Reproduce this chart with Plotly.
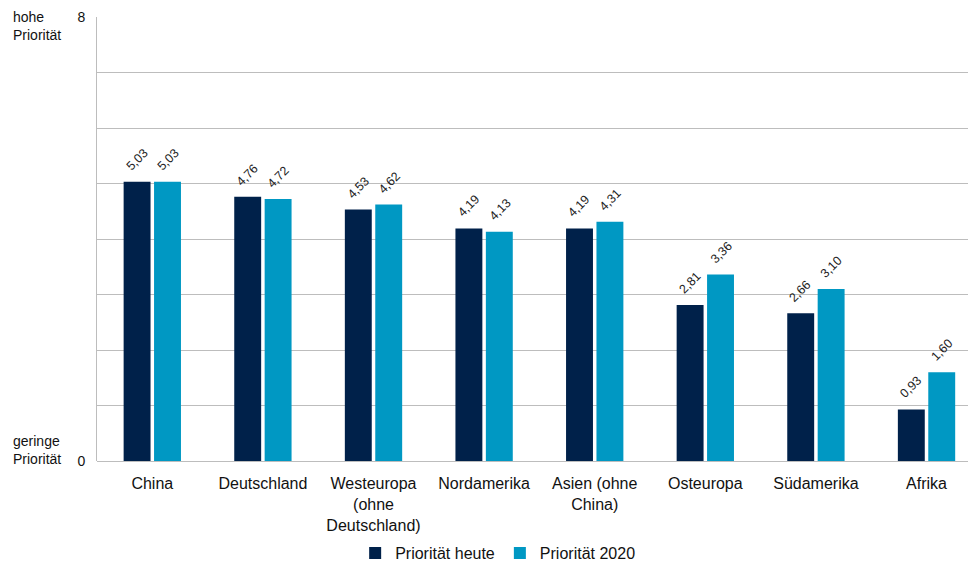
import plotly.graph_objects as go

categories = ["China", "Deutschland", "Westeuropa<br>(ohne<br>Deutschland)", "Nordamerika",
              "Asien (ohne<br>China)", "Osteuropa", "Südamerika", "Afrika"]
heute = [5.03, 4.76, 4.53, 4.19, 4.19, 2.81, 2.66, 0.93]
p2020 = [5.03, 4.72, 4.62, 4.13, 4.31, 3.36, 3.10, 1.60]
y_ticks = list(range(9))
y_ticktext = ["0", "", "", "", "", "", "", "", "8"]

font_family = "Liberation Sans, Arial, sans-serif"
series = [("Priorität heute", heute, "#00214a", -15.5),
          ("Priorität 2020", p2020, "#0098c3", 15.5)]

fig = go.Figure()
for name, vals, color, _ in series:
    fig.add_trace(go.Bar(
        x=list(range(len(categories))), y=vals, name=name,
        marker=dict(color=color, line=dict(width=0)),
    ))

for name, vals, color, dx in series:
    for i, v in enumerate(vals):
        fig.add_annotation(
            x=i, y=v, xref="x", yref="y", text=f"{v:.2f}".replace(".", ","),
            textangle=-45, showarrow=False, xshift=dx, yshift=22,
            font=dict(size=12.5, color="#222222", family=font_family),
        )

fig.update_layout(
    width=968, height=561,
    margin=dict(l=97, r=0, t=17, b=100, autoexpand=False),
    paper_bgcolor="white", plot_bgcolor="white",
    separators=", ",
    barmode="group", bargap=0.45, bargroupgap=0.115,
    font=dict(family=font_family, color="#111111"),
    showlegend=True,
    legend=dict(orientation="h", x=0.46, xanchor="center", y=-92/444, yanchor="middle",
                font=dict(size=16, color="#111111"), itemwidth=30,
                traceorder="normal"),
    xaxis=dict(
        tickvals=list(range(len(categories))), ticktext=categories,
        range=[-0.5, 7.375], showgrid=False, zeroline=False,
        showline=False, ticks="", automargin=False, ticklabelstandoff=11,
        tickfont=dict(size=16, color="#111111"),
    ),
    yaxis=dict(
        range=[0, 8], tickvals=y_ticks, ticktext=y_ticktext,
        showgrid=True, gridcolor="#bdbdbd", gridwidth=1,
        zeroline=True, zerolinecolor="#bdbdbd", zerolinewidth=1,
        showline=True, linecolor="#bdbdbd", linewidth=1,
        ticks="", ticklabelstandoff=8, automargin=False,
        tickfont=dict(size=14, color="#111111"),
    ),
)

fig.add_annotation(text="hohe<br>Priorität", xref="paper", yref="paper",
                   x=-86/871, y=1.0 + 10/444, xanchor="left", yanchor="top",
                   showarrow=False, align="left",
                   font=dict(size=14, color="#111111"))
fig.add_annotation(text="geringe<br>Priorität", xref="paper", yref="paper",
                   x=-86/871, y=-8/444, xanchor="left", yanchor="bottom",
                   showarrow=False, align="left",
                   font=dict(size=14, color="#111111"))

fig.write_html("out.html")
